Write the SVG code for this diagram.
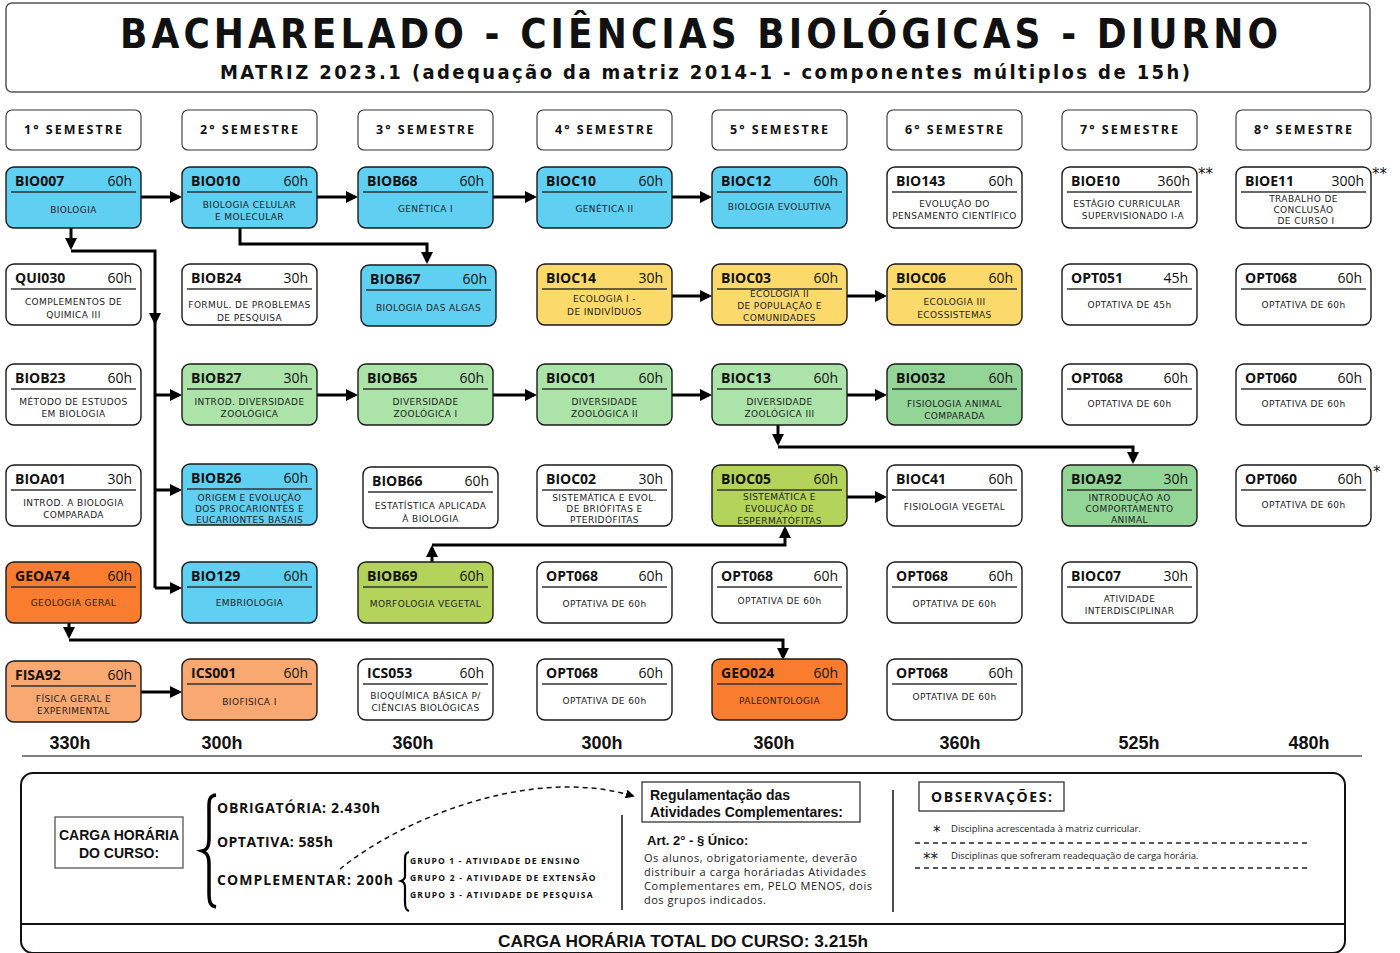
<svg xmlns="http://www.w3.org/2000/svg" width="1400" height="953" viewBox="0 0 1400 953">
<defs>
<style>
.b{stroke:#1a1a1a;stroke-width:1.4}
.w{fill:#ffffff}.bl{fill:#5fd0f2}.ye{fill:#fcd96b}.gr{fill:#abe3a9}.g2{fill:#93d597}.ol{fill:#b4d35b}.or{fill:#fa7d2f}.lo{fill:#f9a872}
.c{font-family:"Open Sans","DejaVu Sans",sans-serif;font-weight:700;font-size:14px;fill:#111}
.h{font-family:"Open Sans","DejaVu Sans",sans-serif;font-size:14px;fill:#111;text-anchor:end}
.d{stroke:#333;stroke-width:1.6}
.t{font-family:"DejaVu Sans","Open Sans",sans-serif;font-size:9px;letter-spacing:0.4px;fill:#222;text-anchor:middle}
.sem{fill:#fff;stroke:#333;stroke-width:1.1}
.st{font-family:"Open Sans","DejaVu Sans",sans-serif;font-weight:700;font-size:12.5px;letter-spacing:2px;fill:#111;text-anchor:middle}
.tot{font-family:"Liberation Sans",Arial,sans-serif;font-weight:700;font-size:18px;fill:#111;text-anchor:middle}
.cn{fill:none;stroke:#000;stroke-width:3}
.ob{font-family:"Open Sans","DejaVu Sans",sans-serif;font-weight:700;font-size:14px;letter-spacing:1px;fill:#111}
.gp{font-family:"Open Sans","DejaVu Sans",sans-serif;font-weight:700;font-size:8.5px;letter-spacing:0.5px;fill:#111}
.ar{font-family:"Liberation Sans",Arial,sans-serif;font-weight:700;fill:#111}
.p{font-family:"Open Sans","DejaVu Sans",sans-serif;font-size:11px;fill:#222}
.obs{font-family:"Open Sans","DejaVu Sans",sans-serif;font-size:9.5px;fill:#222}
.dash{stroke:#222;stroke-width:1.3;stroke-dasharray:5 4}
.star{font-family:"DejaVu Sans",sans-serif;font-size:15px;fill:#111}
.ttl{font-family:"DejaVu Sans Condensed","DejaVu Sans",sans-serif;font-weight:700;fill:#111;text-anchor:middle}
</style>
<marker id="ah" viewBox="0 0 12 12" refX="9" refY="6" markerWidth="12" markerHeight="12" markerUnits="userSpaceOnUse" orient="auto"><path d="M0,0 L12,6 L0,12 z" fill="#000"/></marker>
<marker id="ah2" viewBox="0 0 10 10" refX="8" refY="5" markerWidth="9" markerHeight="9" markerUnits="userSpaceOnUse" orient="auto"><path d="M0,0 L10,5 L0,10 z" fill="#000"/></marker>
</defs>
<rect width="1400" height="953" fill="#fff"/>

<g id="title">
<rect x="6" y="3" width="1364" height="89" rx="6" fill="#fff" stroke="#555" stroke-width="1.5"/>
<text class="ttl" x="699" y="48" font-size="40" textLength="1158" lengthAdjust="spacing">BACHARELADO - CIÊNCIAS BIOLÓGICAS - DIURNO</text>
<text class="ttl" x="705" y="79" font-size="20" textLength="970" lengthAdjust="spacing">MATRIZ 2023.1 (adequação da matriz 2014-1 - componentes múltiplos de 15h)</text>
</g>

<g id="semesters">
<g id="sem1"><rect class="sem" x="6" y="110" width="135" height="40" rx="6"/><text class="st" x="74" y="134">1° SEMESTRE</text></g>
<g id="sem2"><rect class="sem" x="182" y="110" width="135" height="40" rx="6"/><text class="st" x="250" y="134">2° SEMESTRE</text></g>
<g id="sem3"><rect class="sem" x="358" y="110" width="135" height="40" rx="6"/><text class="st" x="426" y="134">3° SEMESTRE</text></g>
<g id="sem4"><rect class="sem" x="537" y="110" width="135" height="40" rx="6"/><text class="st" x="605" y="134">4° SEMESTRE</text></g>
<g id="sem5"><rect class="sem" x="712" y="110" width="135" height="40" rx="6"/><text class="st" x="780" y="134">5° SEMESTRE</text></g>
<g id="sem6"><rect class="sem" x="887" y="110" width="135" height="40" rx="6"/><text class="st" x="955" y="134">6° SEMESTRE</text></g>
<g id="sem7"><rect class="sem" x="1062" y="110" width="135" height="40" rx="6"/><text class="st" x="1130" y="134">7° SEMESTRE</text></g>
<g id="sem8"><rect class="sem" x="1236" y="110" width="135" height="40" rx="6"/><text class="st" x="1304" y="134">8° SEMESTRE</text></g>
</g>

<g id="connectors">
<path class="cn" marker-end="url(#ah)" d="M141,197 H179"/>
<path class="cn" marker-end="url(#ah)" d="M317,197 H355"/>
<path class="cn" marker-end="url(#ah)" d="M493,197 H534"/>
<path class="cn" marker-end="url(#ah)" d="M672,197 H709"/>
<path class="cn" marker-end="url(#ah)" d="M672,296 H709"/>
<path class="cn" marker-end="url(#ah)" d="M847,296 H884"/>
<path class="cn" marker-end="url(#ah)" d="M317,395 H355"/>
<path class="cn" marker-end="url(#ah)" d="M493,395 H534"/>
<path class="cn" marker-end="url(#ah)" d="M672,395 H709"/>
<path class="cn" marker-end="url(#ah)" d="M847,395 H884"/>
<path class="cn" marker-end="url(#ah)" d="M71,228 V247"/>
<path class="cn" d="M71,251 H155 V588"/>
<path d="M149,313 L161,313 L155,325 z" fill="#000"/>
<path class="cn" marker-end="url(#ah)" d="M155,395 H179"/>
<path class="cn" marker-end="url(#ah)" d="M155,490 H179"/>
<path class="cn" marker-end="url(#ah)" d="M155,588 H179"/>
<path class="cn" marker-end="url(#ah)" d="M240,228 V244 H427 V261"/>
<path class="cn" marker-end="url(#ah)" d="M778,425 V443"/>
<path class="cn" marker-end="url(#ah)" d="M778,447 H1133 V461"/>
<path class="cn" marker-end="url(#ah)" d="M847,497 H884"/>
<path class="cn" marker-end="url(#ah)" d="M432,562 V548"/>
<path class="cn" marker-end="url(#ah)" d="M432,545 H785 V529"/>
<path class="cn" marker-end="url(#ah)" d="M69,622 V636"/>
<path class="cn" marker-end="url(#ah)" d="M69,640 H783 V657"/>
<path class="cn" marker-end="url(#ah)" d="M141,692 H179"/>
</g>

<!-- Row 1 -->
<g id="n-BIO007" transform="translate(6,167)"><rect class="b bl" width="135" height="61" rx="8"/><text class="c" x="9" y="19">BIO007</text><text class="h" x="126" y="19">60h</text><line class="d" x1="5" x2="130" y1="25" y2="25"/><text class="t" x="67.5" y="46">BIOLOGIA</text></g>
<g id="n-BIO010" transform="translate(182,167)"><rect class="b bl" width="135" height="61" rx="8"/><text class="c" x="9" y="19">BIO010</text><text class="h" x="126" y="19">60h</text><line class="d" x1="5" x2="130" y1="25" y2="25"/><text class="t" x="67.5" y="41">BIOLOGIA CELULAR</text><text class="t" x="67.5" y="53">E MOLECULAR</text></g>
<g id="n-BIOB68" transform="translate(358,167)"><rect class="b bl" width="135" height="61" rx="8"/><text class="c" x="9" y="19">BIOB68</text><text class="h" x="126" y="19">60h</text><line class="d" x1="5" x2="130" y1="25" y2="25"/><text class="t" x="67.5" y="45">GENÉTICA I</text></g>
<g id="n-BIOC10" transform="translate(537,167)"><rect class="b bl" width="135" height="61" rx="8"/><text class="c" x="9" y="19">BIOC10</text><text class="h" x="126" y="19">60h</text><line class="d" x1="5" x2="130" y1="25" y2="25"/><text class="t" x="67.5" y="45">GENÉTICA II</text></g>
<g id="n-BIOC12" transform="translate(712,167)"><rect class="b bl" width="135" height="61" rx="8"/><text class="c" x="9" y="19">BIOC12</text><text class="h" x="126" y="19">60h</text><line class="d" x1="5" x2="130" y1="25" y2="25"/><text class="t" x="67.5" y="43">BIOLOGIA EVOLUTIVA</text></g>
<g id="n-BIO143" transform="translate(887,167)"><rect class="b w" width="135" height="61" rx="8"/><text class="c" x="9" y="19">BIO143</text><text class="h" x="126" y="19">60h</text><line class="d" x1="5" x2="130" y1="25" y2="25"/><text class="t" x="67.5" y="40">EVOLUÇÃO DO</text><text class="t" x="67.5" y="52">PENSAMENTO CIENTÍFICO</text></g>
<g id="n-BIOE10" transform="translate(1062,167)"><rect class="b w" width="135" height="61" rx="8"/><text class="c" x="9" y="19">BIOE10</text><text class="h" x="128" y="19">360h</text><line class="d" x1="5" x2="130" y1="25" y2="25"/><text class="t" x="65" y="40">ESTÁGIO CURRICULAR</text><text class="t" x="71" y="52">SUPERVISIONADO I-A</text></g>
<g id="n-BIOE11" transform="translate(1236,167)"><rect class="b w" width="135" height="61" rx="8"/><text class="c" x="9" y="19">BIOE11</text><text class="h" x="128" y="19">300h</text><line class="d" x1="5" x2="130" y1="25" y2="25"/><text class="t" x="67.5" y="35">TRABALHO DE</text><text class="t" x="67.5" y="46">CONCLUSÃO</text><text class="t" x="70" y="57">DE CURSO I</text></g>

<!-- Row 2 -->
<g id="n-QUI030" transform="translate(6,264)"><rect class="b w" width="135" height="61" rx="8"/><text class="c" x="9" y="19">QUI030</text><text class="h" x="126" y="19">60h</text><line class="d" x1="5" x2="130" y1="25" y2="25"/><text class="t" x="67.5" y="41">COMPLEMENTOS DE</text><text class="t" x="67.5" y="54">QUIMICA III</text></g>
<g id="n-BIOB24" transform="translate(182,264)"><rect class="b w" width="135" height="61" rx="8"/><text class="c" x="9" y="19">BIOB24</text><text class="h" x="126" y="19">30h</text><line class="d" x1="5" x2="130" y1="25" y2="25"/><text class="t" x="67.5" y="44">FORMUL. DE PROBLEMAS</text><text class="t" x="67.5" y="57">DE PESQUISA</text></g>
<g id="n-BIOB67" transform="translate(361,265)"><rect class="b bl" width="135" height="61" rx="8"/><text class="c" x="9" y="19">BIOB67</text><text class="h" x="126" y="19">60h</text><line class="d" x1="5" x2="130" y1="25" y2="25"/><text class="t" x="67.5" y="46">BIOLOGIA DAS ALGAS</text></g>
<g id="n-BIOC14" transform="translate(537,264)"><rect class="b ye" width="135" height="61" rx="8"/><text class="c" x="9" y="19">BIOC14</text><text class="h" x="126" y="19">30h</text><line class="d" x1="5" x2="130" y1="25" y2="25"/><text class="t" x="67.5" y="38">ECOLOGIA I -</text><text class="t" x="67.5" y="51">DE INDIVÍDUOS</text></g>
<g id="n-BIOC03" transform="translate(712,264)"><rect class="b ye" width="135" height="61" rx="8"/><text class="c" x="9" y="19">BIOC03</text><text class="h" x="126" y="19">60h</text><line class="d" x1="5" x2="130" y1="25" y2="25"/><text class="t" x="67.5" y="33">ECOLOGIA II</text><text class="t" x="67.5" y="45">DE POPULAÇÃO E</text><text class="t" x="67.5" y="57">COMUNIDADES</text></g>
<g id="n-BIOC06" transform="translate(887,264)"><rect class="b ye" width="135" height="61" rx="8"/><text class="c" x="9" y="19">BIOC06</text><text class="h" x="126" y="19">60h</text><line class="d" x1="5" x2="130" y1="25" y2="25"/><text class="t" x="67.5" y="41">ECOLOGIA III</text><text class="t" x="67.5" y="54">ECOSSISTEMAS</text></g>
<g id="n-OPT051" transform="translate(1062,264)"><rect class="b w" width="135" height="61" rx="8"/><text class="c" x="9" y="19">OPT051</text><text class="h" x="126" y="19">45h</text><line class="d" x1="5" x2="130" y1="25" y2="25"/><text class="t" x="67.5" y="44">OPTATIVA DE 45h</text></g>
<g id="n-OPT068-s8r2" transform="translate(1236,264)"><rect class="b w" width="135" height="61" rx="8"/><text class="c" x="9" y="19">OPT068</text><text class="h" x="126" y="19">60h</text><line class="d" x1="5" x2="130" y1="25" y2="25"/><text class="t" x="67.5" y="44">OPTATIVA DE 60h</text></g>

<!-- Row 3 -->
<g id="n-BIOB23" transform="translate(6,364)"><rect class="b w" width="135" height="61" rx="8"/><text class="c" x="9" y="19">BIOB23</text><text class="h" x="126" y="19">60h</text><line class="d" x1="5" x2="130" y1="25" y2="25"/><text class="t" x="67.5" y="41">MÉTODO DE ESTUDOS</text><text class="t" x="67.5" y="53">EM BIOLOGIA</text></g>
<g id="n-BIOB27" transform="translate(182,364)"><rect class="b gr" width="135" height="61" rx="8"/><text class="c" x="9" y="19">BIOB27</text><text class="h" x="126" y="19">30h</text><line class="d" x1="5" x2="130" y1="25" y2="25"/><text class="t" x="67.5" y="41">INTROD. DIVERSIDADE</text><text class="t" x="67.5" y="53">ZOOLÓGICA</text></g>
<g id="n-BIOB65" transform="translate(358,364)"><rect class="b gr" width="135" height="61" rx="8"/><text class="c" x="9" y="19">BIOB65</text><text class="h" x="126" y="19">60h</text><line class="d" x1="5" x2="130" y1="25" y2="25"/><text class="t" x="67.5" y="41">DIVERSIDADE</text><text class="t" x="67.5" y="53">ZOOLÓGICA I</text></g>
<g id="n-BIOC01" transform="translate(537,364)"><rect class="b gr" width="135" height="61" rx="8"/><text class="c" x="9" y="19">BIOC01</text><text class="h" x="126" y="19">60h</text><line class="d" x1="5" x2="130" y1="25" y2="25"/><text class="t" x="67.5" y="41">DIVERSIDADE</text><text class="t" x="67.5" y="53">ZOOLÓGICA II</text></g>
<g id="n-BIOC13" transform="translate(712,364)"><rect class="b gr" width="135" height="61" rx="8"/><text class="c" x="9" y="19">BIOC13</text><text class="h" x="126" y="19">60h</text><line class="d" x1="5" x2="130" y1="25" y2="25"/><text class="t" x="67.5" y="41">DIVERSIDADE</text><text class="t" x="67.5" y="53">ZOOLÓGICA III</text></g>
<g id="n-BIO032" transform="translate(887,364)"><rect class="b g2" width="135" height="61" rx="8"/><text class="c" x="9" y="19">BIO032</text><text class="h" x="126" y="19">60h</text><line class="d" x1="5" x2="130" y1="25" y2="25"/><text class="t" x="67.5" y="43">FISIOLOGIA ANIMAL</text><text class="t" x="67.5" y="55">COMPARADA</text></g>
<g id="n-OPT068-s7r3" transform="translate(1062,364)"><rect class="b w" width="135" height="61" rx="8"/><text class="c" x="9" y="19">OPT068</text><text class="h" x="126" y="19">60h</text><line class="d" x1="5" x2="130" y1="25" y2="25"/><text class="t" x="67.5" y="43">OPTATIVA DE 60h</text></g>
<g id="n-OPT060-s8r3" transform="translate(1236,364)"><rect class="b w" width="135" height="61" rx="8"/><text class="c" x="9" y="19">OPT060</text><text class="h" x="126" y="19">60h</text><line class="d" x1="5" x2="130" y1="25" y2="25"/><text class="t" x="67.5" y="43">OPTATIVA DE 60h</text></g>

<!-- Row 4 -->
<g id="n-BIOA01" transform="translate(6,465)"><rect class="b w" width="135" height="61" rx="8"/><text class="c" x="9" y="19">BIOA01</text><text class="h" x="126" y="19">30h</text><line class="d" x1="5" x2="130" y1="25" y2="25"/><text class="t" x="67.5" y="41">INTROD. A BIOLOGIA</text><text class="t" x="67.5" y="53">COMPARADA</text></g>
<g id="n-BIOB26" transform="translate(182,464)"><rect class="b bl" width="135" height="61" rx="8"/><text class="c" x="9" y="19">BIOB26</text><text class="h" x="126" y="19">60h</text><line class="d" x1="5" x2="130" y1="25" y2="25"/><text class="t" x="67.5" y="37">ORIGEM E EVOLUÇÃO</text><text class="t" x="67.5" y="48">DOS PROCARIONTES E</text><text class="t" x="67.5" y="59">EUCARIONTES BASAIS</text></g>
<g id="n-BIOB66" transform="translate(363,467)"><rect class="b w" width="135" height="61" rx="8"/><text class="c" x="9" y="19">BIOB66</text><text class="h" x="126" y="19">60h</text><line class="d" x1="5" x2="130" y1="25" y2="25"/><text class="t" x="67.5" y="42">ESTATÍSTICA APLICADA</text><text class="t" x="67.5" y="55">À BIOLOGIA</text></g>
<g id="n-BIOC02" transform="translate(537,465)"><rect class="b w" width="135" height="61" rx="8"/><text class="c" x="9" y="19">BIOC02</text><text class="h" x="126" y="19">30h</text><line class="d" x1="5" x2="130" y1="25" y2="25"/><text class="t" x="67.5" y="36">SISTEMÁTICA E EVOL.</text><text class="t" x="67.5" y="47">DE BRIÓFITAS E</text><text class="t" x="67.5" y="58">PTERIDÓFITAS</text></g>
<g id="n-BIOC05" transform="translate(712,465)"><rect class="b ol" width="135" height="61" rx="8"/><text class="c" x="9" y="19">BIOC05</text><text class="h" x="126" y="19">60h</text><line class="d" x1="5" x2="130" y1="25" y2="25"/><text class="t" x="67.5" y="35">SISTEMÁTICA E</text><text class="t" x="67.5" y="47">EVOLUÇÃO DE</text><text class="t" x="67.5" y="59">ESPERMATÓFITAS</text></g>
<g id="n-BIOC41" transform="translate(887,465)"><rect class="b w" width="135" height="61" rx="8"/><text class="c" x="9" y="19">BIOC41</text><text class="h" x="126" y="19">60h</text><line class="d" x1="5" x2="130" y1="25" y2="25"/><text class="t" x="67.5" y="45">FISIOLOGIA VEGETAL</text></g>
<g id="n-BIOA92" transform="translate(1062,465)"><rect class="b g2" width="135" height="61" rx="8"/><text class="c" x="9" y="19">BIOA92</text><text class="h" x="126" y="19">30h</text><line class="d" x1="5" x2="130" y1="25" y2="25"/><text class="t" x="67.5" y="36">INTRODUÇÃO AO</text><text class="t" x="67.5" y="47">COMPORTAMENTO</text><text class="t" x="67.5" y="58">ANIMAL</text></g>
<g id="n-OPT060-s8r4" transform="translate(1236,465)"><rect class="b w" width="135" height="61" rx="8"/><text class="c" x="9" y="19">OPT060</text><text class="h" x="126" y="19">60h</text><line class="d" x1="5" x2="130" y1="25" y2="25"/><text class="t" x="67.5" y="43">OPTATIVA DE 60h</text></g>

<!-- Row 5 -->
<g id="n-GEOA74" transform="translate(6,562)"><rect class="b or" width="135" height="61" rx="8"/><text class="c" x="9" y="19">GEOA74</text><text class="h" x="126" y="19">60h</text><line class="d" x1="5" x2="130" y1="25" y2="25"/><text class="t" x="67.5" y="44">GEOLOGIA GERAL</text></g>
<g id="n-BIO129" transform="translate(182,562)"><rect class="b bl" width="135" height="61" rx="8"/><text class="c" x="9" y="19">BIO129</text><text class="h" x="126" y="19">60h</text><line class="d" x1="5" x2="130" y1="25" y2="25"/><text class="t" x="67.5" y="44">EMBRIOLOGIA</text></g>
<g id="n-BIOB69" transform="translate(358,562)"><rect class="b ol" width="135" height="61" rx="8"/><text class="c" x="9" y="19">BIOB69</text><text class="h" x="126" y="19">60h</text><line class="d" x1="5" x2="130" y1="25" y2="25"/><text class="t" x="67.5" y="45">MORFOLOGIA VEGETAL</text></g>
<g id="n-OPT068-s4r5" transform="translate(537,562)"><rect class="b w" width="135" height="61" rx="8"/><text class="c" x="9" y="19">OPT068</text><text class="h" x="126" y="19">60h</text><line class="d" x1="5" x2="130" y1="25" y2="25"/><text class="t" x="67.5" y="45">OPTATIVA DE 60h</text></g>
<g id="n-OPT068-s5r5" transform="translate(712,562)"><rect class="b w" width="135" height="61" rx="8"/><text class="c" x="9" y="19">OPT068</text><text class="h" x="126" y="19">60h</text><line class="d" x1="5" x2="130" y1="25" y2="25"/><text class="t" x="67.5" y="42">OPTATIVA DE 60h</text></g>
<g id="n-OPT068-s6r5" transform="translate(887,562)"><rect class="b w" width="135" height="61" rx="8"/><text class="c" x="9" y="19">OPT068</text><text class="h" x="126" y="19">60h</text><line class="d" x1="5" x2="130" y1="25" y2="25"/><text class="t" x="67.5" y="45">OPTATIVA DE 60h</text></g>
<g id="n-BIOC07" transform="translate(1062,562)"><rect class="b w" width="135" height="61" rx="8"/><text class="c" x="9" y="19">BIOC07</text><text class="h" x="126" y="19">30h</text><line class="d" x1="5" x2="130" y1="25" y2="25"/><text class="t" x="67.5" y="40">ATIVIDADE</text><text class="t" x="67.5" y="52">INTERDISCIPLINAR</text></g>

<!-- Row 6 -->
<g id="n-FISA92" transform="translate(6,661)"><rect class="b lo" width="135" height="61" rx="8"/><text class="c" x="9" y="19">FISA92</text><text class="h" x="126" y="19">60h</text><line class="d" x1="5" x2="130" y1="25" y2="25"/><text class="t" x="67.5" y="41">FÍSICA GERAL E</text><text class="t" x="67.5" y="53">EXPERIMENTAL</text></g>
<g id="n-ICS001" transform="translate(182,659)"><rect class="b lo" width="135" height="61" rx="8"/><text class="c" x="9" y="19">ICS001</text><text class="h" x="126" y="19">60h</text><line class="d" x1="5" x2="130" y1="25" y2="25"/><text class="t" x="67.5" y="46">BIOFISICA I</text></g>
<g id="n-ICS053" transform="translate(358,659)"><rect class="b w" width="135" height="61" rx="8"/><text class="c" x="9" y="19">ICS053</text><text class="h" x="126" y="19">60h</text><line class="d" x1="5" x2="130" y1="25" y2="25"/><text class="t" x="67.5" y="40">BIOQUÍMICA BÁSICA P/</text><text class="t" x="67.5" y="52">CIÊNCIAS BIOLÓGICAS</text></g>
<g id="n-OPT068-s4r6" transform="translate(537,659)"><rect class="b w" width="135" height="61" rx="8"/><text class="c" x="9" y="19">OPT068</text><text class="h" x="126" y="19">60h</text><line class="d" x1="5" x2="130" y1="25" y2="25"/><text class="t" x="67.5" y="45">OPTATIVA DE 60h</text></g>
<g id="n-GEO024" transform="translate(712,659)"><rect class="b or" width="135" height="61" rx="8"/><text class="c" x="9" y="19">GEO024</text><text class="h" x="126" y="19">60h</text><line class="d" x1="5" x2="130" y1="25" y2="25"/><text class="t" x="67.5" y="45">PALEONTOLOGIA</text></g>
<g id="n-OPT068-s6r6" transform="translate(887,659)"><rect class="b w" width="135" height="61" rx="8"/><text class="c" x="9" y="19">OPT068</text><text class="h" x="126" y="19">60h</text><line class="d" x1="5" x2="130" y1="25" y2="25"/><text class="t" x="67.5" y="41">OPTATIVA DE 60h</text></g>

<g id="stars">
<text class="star" x="1198" y="179">**</text>
<text class="star" x="1372" y="179">**</text>
<text class="star" x="1373" y="477">*</text>
</g>

<g id="totals">
<text class="tot" x="70" y="749">330h</text>
<text class="tot" x="222" y="749">300h</text>
<text class="tot" x="413" y="749">360h</text>
<text class="tot" x="602" y="749">300h</text>
<text class="tot" x="774" y="749">360h</text>
<text class="tot" x="960" y="749">360h</text>
<text class="tot" x="1139" y="749">525h</text>
<text class="tot" x="1309" y="749">480h</text>
<line x1="22" y1="756" x2="1362" y2="756" stroke="#555" stroke-width="1.5"/>
</g>

<g id="summary">
<rect x="21" y="773" width="1324" height="180" rx="12" fill="none" stroke="#111" stroke-width="2"/>
<line x1="21" y1="924" x2="1345" y2="924" stroke="#111" stroke-width="2"/>
<text class="ar" x="683" y="947" font-size="16" text-anchor="middle" textLength="370" lengthAdjust="spacingAndGlyphs">CARGA HORÁRIA TOTAL DO CURSO: 3.215h</text>

<rect x="55" y="817" width="128" height="51" fill="#fff" stroke="#555" stroke-width="1.3"/>
<text class="ar" x="119" y="840" font-size="14" text-anchor="middle">CARGA HORÁRIA</text>
<text class="ar" x="119" y="858" font-size="14" text-anchor="middle">DO CURSO:</text>

<path d="M216,795 C208,796 209,802 209,812 L209,838 C209,847 207,850 202,851 C207,853 209,856 209,864 L209,892 C209,902 210,906 216,907" fill="none" stroke="#000" stroke-width="3.5"/>
<text class="ob" x="217" y="813" textLength="164" lengthAdjust="spacing">OBRIGATÓRIA: 2.430h</text>
<text class="ob" x="217" y="847" textLength="117" lengthAdjust="spacing">OPTATIVA: 585h</text>
<text class="ob" x="217" y="885" textLength="177" lengthAdjust="spacing">COMPLEMENTAR: 200h</text>

<path d="M409,852 C405,853 405,856 405,862 L405,876 C405,879 404,880 401,881 C404,882 405,884 405,887 L405,902 C405,908 406,910 409,911" fill="none" stroke="#000" stroke-width="2.2"/>
<text class="gp" x="410" y="864" textLength="170" lengthAdjust="spacing">GRUPO 1 - ATIVIDADE DE ENSINO</text>
<text class="gp" x="410" y="881" textLength="186" lengthAdjust="spacing">GRUPO 2 - ATIVIDADE DE EXTENSÃO</text>
<text class="gp" x="410" y="898" textLength="183" lengthAdjust="spacing">GRUPO 3 - ATIVIDADE DE PESQUISA</text>

<path d="M340,869 C400,820 530,765 633,796" fill="none" stroke="#111" stroke-width="1.5" stroke-dasharray="5 4" marker-end="url(#ah2)"/>

<line x1="622" y1="815" x2="622" y2="910" stroke="#111" stroke-width="1.5"/>
<rect x="642" y="782" width="218" height="40" fill="#fff" stroke="#333" stroke-width="1.3"/>
<text class="ar" x="650" y="800" font-size="14">Regulamentação das</text>
<text class="ar" x="650" y="817" font-size="14">Atividades Complementares:</text>
<text class="ar" x="647" y="845" font-size="13">Art. 2° - § Único:</text>
<text class="p" x="644" y="862" textLength="213" lengthAdjust="spacing">Os alunos, obrigatoriamente, deverão</text>
<text class="p" x="644" y="876" textLength="222" lengthAdjust="spacing">distribuir a carga horáriadas Atividades</text>
<text class="p" x="644" y="890" textLength="228" lengthAdjust="spacing">Complementares em, PELO MENOS, dois</text>
<text class="p" x="644" y="904" textLength="122" lengthAdjust="spacing">dos grupos indicados.</text>

<line x1="893" y1="790" x2="893" y2="912" stroke="#111" stroke-width="1.5"/>
<rect x="919" y="782" width="145" height="29" fill="#fff" stroke="#333" stroke-width="1.3"/>
<text class="ob" x="931" y="802" font-size="14" letter-spacing="2" textLength="122" lengthAdjust="spacing">OBSERVAÇÕES:</text>
<text class="star" x="933" y="837">*</text>
<text class="obs" x="951" y="832">Disciplina acrescentada à matriz curricular.</text>
<line class="dash" x1="915" y1="843" x2="1308" y2="843"/>
<text class="star" x="923" y="864">**</text>
<text class="obs" x="951" y="859">Disciplinas que sofreram readequação de carga horária.</text>
<line class="dash" x1="915" y1="868" x2="1308" y2="868"/>
</g>
</svg>
